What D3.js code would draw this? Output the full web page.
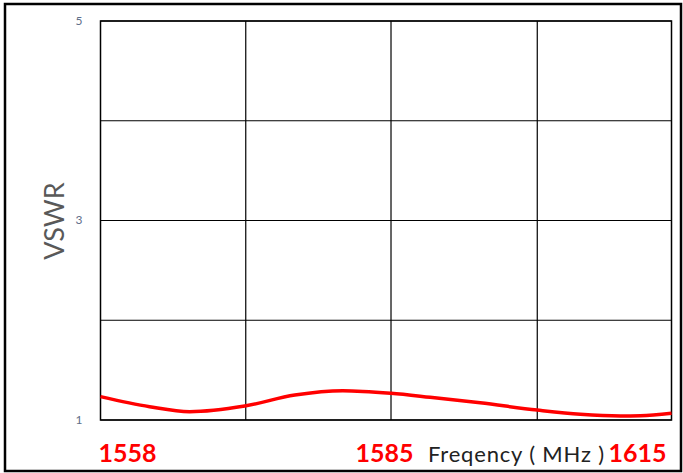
<!DOCTYPE html>
<html><head><meta charset="utf-8">
<script src="https://cdn.jsdelivr.net/npm/d3@7"></script>
<style>body{margin:0;background:#fff}svg{display:block}</style>
</head><body>
<script>
const freqs = [1558, 1562.9, 1566.9, 1572.4, 1577.4, 1582.2, 1587.0, 1590.9, 1595.9, 1601.6, 1605.9, 1609.9, 1611.9, 1615];
const vswr  = [1.234, 1.133, 1.083, 1.14, 1.25, 1.294, 1.268, 1.228, 1.172, 1.10, 1.057, 1.04, 1.042, 1.067];
const xGridFreqs = [1572.5, 1587.0, 1601.6];
const yGridValues = [1, 2, 3, 4, 5];
const yTickLabels = [1, 3, 5];
const xLabels = ["1558", "1585", "1615"];
const axisTitleX = "Freqency ( MHz )";
const axisTitleY = "VSWR";

(function () {
const W = 683, H = 473;
const svg = d3.select("body").append("svg").attr("width", W).attr("height", H);
const pL = 100.5, pR = 671.5, pT = 21, pB = 420;
const x = d3.scaleLinear().domain([1558, 1615]).range([pL, pR]);
const y = d3.scaleLinear().domain([1, 5]).range([pB, pT]);

// outer frame
svg.append("rect").attr("x", 5).attr("y", 4).attr("width", 676).attr("height", 467)
  .attr("fill", "none").attr("stroke", "#000").attr("stroke-width", 2.5);

// grid
svg.append("g").selectAll("line").data(yGridValues).join("line")
  .attr("x1", pL).attr("x2", pR).attr("y1", d => y(d)).attr("y2", d => y(d))
  .attr("stroke", "#000").attr("stroke-width", 1.2);
svg.append("g").selectAll("line").data(xGridFreqs).join("line")
  .attr("x1", d => x(d)).attr("x2", d => x(d)).attr("y1", pT).attr("y2", pB)
  .attr("stroke", "#000").attr("stroke-width", 1.2);
svg.append("rect").attr("x", pL).attr("y", pT).attr("width", pR - pL).attr("height", pB - pT)
  .attr("fill", "none").attr("stroke", "#000").attr("stroke-width", 1.5);

// y tick labels
svg.append("g").selectAll("text").data(yTickLabels).join("text")
  .attr("x", 79).attr("y", d => y(d) - 1).attr("text-anchor", "middle").attr("dominant-baseline", "central")
  .attr("font-family", "Lato, 'Open Sans', sans-serif").attr("font-size", 12).attr("fill", "#5f6f8a")
  .text(d => d);

// curve
const line = d3.line().x((d, i) => x(freqs[i])).y(d => y(d)).curve(d3.curveMonotoneX);
svg.append("path").datum(vswr).attr("d", line).attr("fill", "none")
  .attr("stroke", "#ff0000").attr("stroke-width", 3.5).attr("stroke-linejoin", "round");

// y title
svg.append("text").attr("transform", "translate(53,221) rotate(-90)")
  .attr("text-anchor", "middle").attr("dominant-baseline", "central")
  .attr("font-family", "Lato, 'Open Sans', sans-serif").attr("font-size", 27).attr("fill", "#595959")
  .text(axisTitleY);

// x labels
const lblX = [127.5, 384.5, 637.5];
svg.append("g").selectAll("text").data(xLabels).join("text")
  .attr("x", (d, i) => lblX[i]).attr("y", 462).attr("text-anchor", "middle")
  .attr("font-family", "Lato, 'Open Sans', sans-serif").attr("font-weight", "bold")
  .attr("font-size", 25).attr("fill", "#ff0000").text(d => d);

svg.append("text").attr("x", 428).attr("y", 462).attr("text-anchor", "start")
  .attr("textLength", 176).attr("lengthAdjust", "spacing")
  .attr("font-family", "Lato, 'Open Sans', sans-serif").attr("font-size", 22).attr("fill", "#222")
  .text(axisTitleX);
})();
</script>
</body></html>
